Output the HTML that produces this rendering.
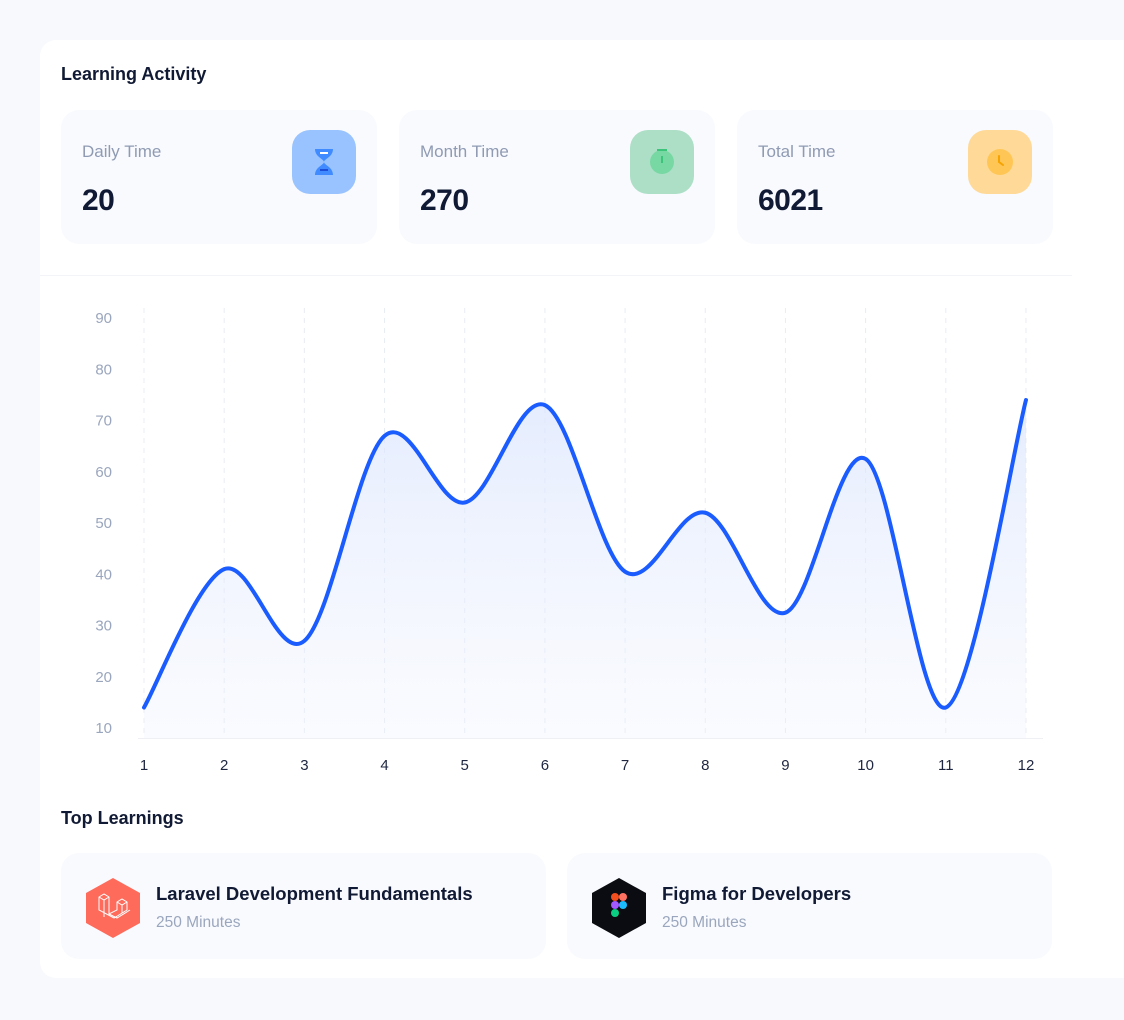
<!DOCTYPE html>
<html><head><meta charset="utf-8"><style>
*{margin:0;padding:0;box-sizing:border-box}
body{width:1124px;height:1020px;background:#f8f9fd;font-family:"Liberation Sans",sans-serif;position:relative;overflow:hidden}
.panel{position:absolute;left:40px;top:40px;width:1100px;height:938px;background:#fff;border-radius:16px}
.abs{position:absolute}
.h{font-weight:bold;font-size:18px;color:#111a34}
.card{position:absolute;top:110px;width:316px;height:134px;background:#f9fafe;border-radius:18px}
.card .l{position:absolute;left:21px;top:32px;font-size:17px;color:#8f9bb3}
.card .v{position:absolute;left:21px;top:74px;font-size:30px;font-weight:bold;color:#111a34;letter-spacing:-0.5px}
.card .ic{position:absolute;left:231px;top:20px;width:64px;height:64px;border-radius:18px}
.lc{position:absolute;top:853px;height:106px;background:#f9fafe;border-radius:18px}
.lc .t{position:absolute;left:95px;top:30px;font-size:18.5px;font-weight:bold;color:#111a34}
.lc .s{position:absolute;left:95px;top:61px;font-size:15.5px;color:#9aa6bd}
.lc svg{position:absolute;left:24px;top:24px}
</style></head><body>
<div class="panel"></div>
<div class="abs h" style="left:61px;top:64px">Learning Activity</div>
<div class="card" style="left:61px"><div class="l">Daily Time</div><div class="v">20</div>
 <div class="ic" style="background:#99c3fe"><svg width="64" height="64"><path d="M23 19h18c0 8-9 10-9 13c0 3 9 5 9 13H23c0-8 9-10 9-13c0-3-9-5-9-13z" fill="#1874ff" opacity=".7"/><rect x="28" y="22" width="8" height="2" fill="#fff"/><rect x="28" y="39" width="8" height="2" fill="#1d4ed8"/></svg></div></div>
<div class="card" style="left:399px"><div class="l">Month Time</div><div class="v">270</div>
 <div class="ic" style="background:#addfc7"><svg width="64" height="64"><circle cx="32" cy="32" r="12" fill="#78d8a4"/><rect x="27" y="19" width="10" height="2" fill="#3cc47a"/><rect x="31" y="26" width="2" height="7" fill="#3cc47a"/></svg></div></div>
<div class="card" style="left:737px"><div class="l">Total Time</div><div class="v">6021</div>
 <div class="ic" style="background:#fed998"><svg width="64" height="64"><circle cx="32" cy="32" r="13" fill="#ffc656"/><path d="M31 26v6l4 3" stroke="#f5a300" stroke-width="2" fill="none" stroke-linecap="round"/></svg></div></div>
<div class="abs" style="left:40px;top:275px;width:1032px;height:1px;background:#f3f4f8"></div>
<svg class="abs" style="left:0;top:0" width="1124" height="800" id="ch">
<defs><linearGradient id="g" x1="0" y1="0" x2="0" y2="1"><stop offset="0" stop-color="#d9e4fd" stop-opacity=".7"/><stop offset="1" stop-color="#eef2fe" stop-opacity=".3"/></linearGradient></defs>
<g id="grid" stroke="#e8ecf3" stroke-dasharray="5 5" stroke-width="1"></g>
<line x1="138" y1="738.5" x2="1043" y2="738.5" stroke="#eef0f4"/>
<g id="yl" font-size="15" fill="#9aa6bd" text-anchor="end"></g>
<g id="xl" font-size="15" fill="#1e2640" text-anchor="middle"></g>
<path id="area" fill="url(#g)"/>
<path id="line" fill="none" stroke="#1b5cff" stroke-width="4" stroke-linecap="round"/>
</svg>
<div class="abs h" style="left:61px;top:808px">Top Learnings</div>
<div class="lc" style="left:61px;width:485px">
<svg width="56" height="62" viewBox="0 0 56 62"><path d="M28 1l27 15v30L28 61 1 46V16z" fill="#ff6b5b"/><g stroke="#fff" stroke-width="1" fill="none"><path d="M14 20l5-3 5 3v17l8 -4v-8l5-3 5 3v8l-13 8-15-8z"/><path d="M14 20l5 3 5-3M19 23v17M32 25l5 3 5-3M37 28v8M24 37l8 4 13-8"/></g></svg>
<div class="t">Laravel Development Fundamentals</div><div class="s">250 Minutes</div></div>
<div class="lc" style="left:567px;width:485px">
<svg width="56" height="62" viewBox="0 0 56 62"><path d="M28 1l27 15v30L28 61 1 46V16z" fill="#0b0b12"/><rect x="20" y="16" width="8" height="8" rx="4" fill="#f24e1e"/><rect x="28" y="16" width="8" height="8" rx="4" fill="#ff7262"/><rect x="20" y="24" width="8" height="8" rx="4" fill="#a259ff"/><circle cx="32" cy="28" r="4" fill="#1abcfe"/><rect x="20" y="32" width="8" height="8" rx="4" fill="#0acf83"/></svg>
<div class="t">Figma for Developers</div><div class="s">250 Minutes</div></div>
<script>
var d=[14,41,27,67,54,73,40.5,52,32.5,62.5,14,74];
var X=i=>144+i*80.18, Y=v=>728-(v-10)*5.125;
var g=document.getElementById('grid'),yl=document.getElementById('yl'),xl=document.getElementById('xl'),s='';
for(var i=0;i<12;i++){s+='<line x1="'+X(i)+'" y1="308" x2="'+X(i)+'" y2="738"/>';}
g.innerHTML=s;s='';
for(var v=10;v<=90;v+=10)s+='<text x="112" y="'+(Y(v)+5)+'">'+v+'</text>';
yl.innerHTML=s;s='';
for(var i=0;i<12;i++)s+='<text x="'+X(i)+'" y="770">'+(i+1)+'</text>';
xl.innerHTML=s;
var p=d.map((v,i)=>[X(i),Y(v)]);
var path='M'+p[0][0]+' '+p[0][1];
for(var i=0;i<p.length-1;i++){var a=p[Math.max(i-1,0)],b=p[i],c=p[i+1],e=p[Math.min(i+2,p.length-1)];
path+=' C'+(b[0]+(c[0]-a[0])/6)+' '+(b[1]+(c[1]-a[1])/6)+' '+(c[0]-(e[0]-b[0])/6)+' '+(c[1]-(e[1]-b[1])/6)+' '+c[0]+' '+c[1];}
document.getElementById('line').setAttribute('d',path);
document.getElementById('area').setAttribute('d',path+' L'+p[11][0]+' 738 L'+p[0][0]+' 738Z');
</script>
</body></html>
